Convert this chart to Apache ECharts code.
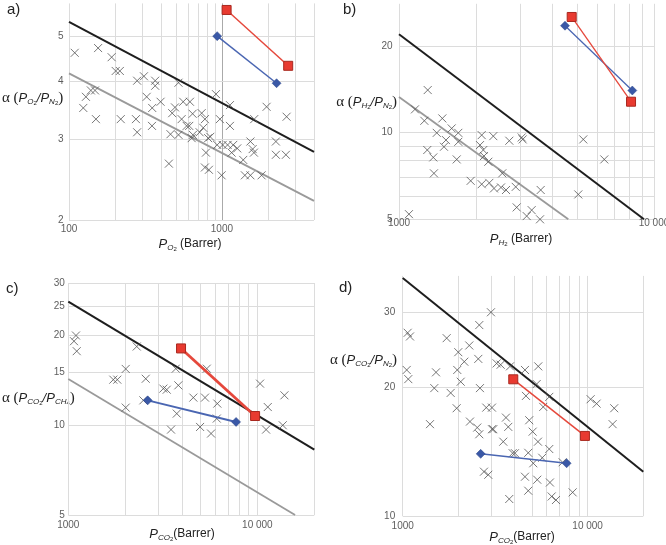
<!DOCTYPE html>
<html><head><meta charset="utf-8">
<script src="https://cdn.jsdelivr.net/npm/echarts@6/dist/echarts.min.js"></script>
<style>html,body{margin:0;padding:0;background:#fff}#c{width:666px;height:545px}</style>
</head><body><div id="c"></div>
<script>
const FONT = 'Liberation Sans';

// ---------- Panel a : O2/N2 ----------
const aXRange = [100, 4000];
const aYRange = [2, 5.9];
const aXGrid = [100, 200, 300, 400, 500, 600, 700, 800, 900, 1000, 2000, 3000, 4000];
const aYGrid = [2, 3, 4, 5];
const aXTicks = [100, 1000];
const aYTicks = [2, 3, 4, 5];
const aUpper = [[100, 5.38], [4000, 2.81]];
const aLower = [[100, 4.16], [4000, 2.20]];
const aRed = [[1073, 5.71], [2712, 4.32]];
const aBlue = [[931, 5.01], [2277, 3.96]];
const aCross = [[109,4.61],[155,4.72],[190,4.51],[202,4.21],[215,4.21],[279,4.01],[309,4.10],[366,4.01],[366,3.91],
 [139,3.82],[148,3.82],[129,3.70],[124,3.50],[322,3.70],[350,3.50],[397,3.61],[150,3.31],[218,3.31],[274,3.31],
 [349,3.20],[279,3.10],[520,3.97],[914,3.75],[493,3.51],[558,3.61],[618,3.61],[473,3.41],[643,3.40],[737,3.41],
 [1128,3.55],[1959,3.52],[2648,3.35],[545,3.31],[774,3.31],[970,3.31],[1626,3.31],[588,3.20],[611,3.20],[755,3.17],
 [1128,3.20],[461,3.07],[520,3.06],[646,3.06],[715,3.10],[839,3.03],[634,3.01],[813,3.01],[1536,2.96],[2254,2.96],
 [931,2.91],[1011,2.91],[1089,2.91],[1185,2.91],[1259,2.86],[1588,2.85],[1619,2.80],[786,2.80],[1157,2.80],
 [2254,2.77],[2620,2.77],[450,2.65],[1378,2.70],[774,2.60],[822,2.57],[995,2.50],[1413,2.50],[1536,2.50],[1817,2.50]];

// ---------- Panel b : H2/N2 ----------
const bXRange = [1000, 10000];
const bYRange = [5, 28];
const bXGrid = [1000, 2000, 3000, 4000, 5000, 6000, 7000, 8000, 9000, 10000];
const bYGrid = [5, 6, 7, 8, 9, 10, 20];
const bXTicks = [1000, 10000];
const bYTicks = [5, 10, 20];
const bUpper = [[1000, 21.96], [9140, 5]];
const bLower = [[1000, 13.3], [4613, 5]];
const bRed = [[4756, 25.2], [8128, 12.8]];
const bBlue = [[4477, 23.5], [8222, 14.0]];
const bCross = [[1296,14.05],[1155,12.04],[1257,10.99],[1479,11.20],[1406,9.98],[1609,10.34],[1708,9.98],[2110,9.80],
 [2343,9.72],[2708,9.37],[1291,8.70],[1363,8.20],[1371,7.22],[1501,8.93],[1528,9.42],[1708,9.29],[1684,8.07],
 [2078,9.05],[2141,8.70],[2154,8.29],[2240,7.92],[3029,9.62],[3055,9.47],[5280,9.47],[6383,8.07],[1910,6.80],
 [2110,6.62],[2260,6.69],[2358,6.40],[2512,6.45],[2628,6.32],[2541,7.22],[2869,6.48],[3594,6.32],[5048,6.10],
 [2894,5.50],[3313,5.38],[3168,5.13],[3573,5.0],[1094,5.21]];

// ---------- Panel c : CO2/CH4 ----------
const cXRange = [1000, 20000];
const cYRange = [5, 30];
const cXGrid = [1000, 2000, 3000, 4000, 5000, 6000, 7000, 8000, 9000, 10000, 20000];
const cYGrid = [5, 10, 15, 20, 25, 30];
const cXTicks = [1000, 10000];
const cYTicks = [5, 10, 15, 20, 25, 30];
const cUpper = [[1000, 26.0], [20000, 8.29]];
const cLower = [[1000, 14.3], [15830, 5]];
const cRed = [[3947, 18.1], [9724, 10.74]];
const cBlue = [[2630, 12.12], [7715, 10.26]];
const cCross = [[1098,20.0],[1072,19.14],[1108,17.72],[2301,18.37],[2012,15.45],[1730,14.22],[1816,14.22],[2568,14.32],
 [3182,13.27],[3316,13.16],[2494,12.12],[2012,11.46],[3702,15.48],[5399,15.48],[3819,13.61],[4584,12.38],[5286,12.38],
 [6140,11.82],[10330,13.79],[13900,12.60],[11350,11.51],[3746,10.94],[3494,9.67],[4977,9.87],[5689,9.38],[6099,10.53],
 [11120,9.67],[13620,10.0]];

// ---------- Panel d : CO2/N2 ----------
const dXRange = [1000, 20000];
const dYRange = [10, 36.5];
const dXGrid = [1000, 2000, 3000, 4000, 5000, 6000, 7000, 8000, 9000, 10000, 20000];
const dYGrid = [10, 20, 30];
const dXTicks = [1000, 10000];
const dYTicks = [10, 20, 30];
const dUpper = [[1000, 36.1], [20000, 12.7]];
const dRed = [[3962, 20.9], [9670, 15.4]];
const dBlue = [[2640, 13.98], [7700, 13.29]];
const dCross = [[3001,30.0],[2595,28.0],[1064,26.86],[1095,26.33],[1729,26.09],[2291,25.08],[1998,24.19],[2153,22.98],
 [2563,23.33],[3222,22.77],[3386,22.61],[1051,21.98],[1072,20.92],[1514,21.70],[1973,21.98],[2059,20.63],[1482,19.93],
 [2617,19.93],[1817,19.42],[1958,17.88],[2831,17.94],[3039,17.94],[3803,22.41],[4583,21.98],[5408,22.41],[5302,20.37],
 [4640,19.11],[6201,19.01],[5754,18.01],[10380,18.77],[11184,18.33],[13924,17.88],[13650,16.41],[1405,16.41],[2311,16.64],
 [2530,16.11],[2595,15.54],[3039,15.97],[3089,15.97],[3617,17.00],[3722,16.17],[4834,16.76],[5044,15.76],[3498,14.93],
 [5388,14.93],[3932,14.03],[4046,14.03],[4775,14.06],[5082,13.29],[5683,13.69],[6201,14.35],[7326,13.36],[2751,12.70],
 [2902,12.49],[4583,12.36],[5341,12.16],[6254,11.98],[4775,11.46],[8298,11.36],[6390,11.11],[6742,10.90],[3768,10.96]];

const panels = [
  {x:aXRange,y:aYRange,xg:aXGrid,yg:aYGrid,xt:aXTicks,yt:aYTicks,cross:aCross,up:aUpper,low:aLower,red:aRed,blue:aBlue,
   rect:{left:69,top:3.4,width:245,height:216.6}, xd:4, yd:5, redW:1.5, blueW:1.5, strong:[1000]},
  {x:bXRange,y:bYRange,xg:bXGrid,yg:bYGrid,xt:bXTicks,yt:bYTicks,cross:bCross,up:bUpper,low:bLower,red:bRed,blue:bBlue,
   rect:{left:399,top:3.8,width:255,height:215.5}, xd:-2, yd:6, redW:1.3, blueW:1.3, strong:[]},
  {x:cXRange,y:cYRange,xg:cXGrid,yg:cYGrid,xt:cXTicks,yt:cYTicks,cross:cCross,up:cUpper,low:cLower,red:cRed,blue:cBlue,
   rect:{left:68.3,top:283,width:246,height:232}, xd:5, yd:3, redW:2.8, blueW:2, strong:[]},
  {x:dXRange,y:dYRange,xg:dXGrid,yg:dYGrid,xt:dXTicks,yt:dYTicks,cross:dCross,up:dUpper,low:null,red:dRed,blue:dBlue,
   rect:{left:402.7,top:275.9,width:240.6,height:240.1}, xd:5, yd:7, redW:1.5, blueW:1.5, strong:[]}
];

function fmt(v){ return v >= 10000 ? Math.floor(v/1000) + ' 000' : String(v); }

const grid = [], xAxis = [], yAxis = [], series = [];
panels.forEach((p, i) => {
  grid.push(Object.assign({containLabel:false, outerBoundsMode:'none'}, p.rect));
  const ax = {type:'log', logBase:10, gridIndex:i, axisLine:{show:false}, axisTick:{show:false},
              axisLabel:{show:false}, splitLine:{show:false}, minorTick:{show:false}, minorSplitLine:{show:false}};
  xAxis.push(Object.assign({}, ax, {min:p.x[0], max:p.x[1]}));
  yAxis.push(Object.assign({}, ax, {min:p.y[0], max:p.y[1]}));
  const lbl = {show:true, fontSize:10, color:'#333', fontFamily:FONT};
  const gridLines = p.xg.map(v => ({xAxis:v, lineStyle:{color: p.strong.indexOf(v) >= 0 ? '#aaaaaa' : '#dcdcdc'}}))
      .concat(p.yg.map(v => ({yAxis:v})));
  series.push({type:'scatter', xAxisIndex:i, yAxisIndex:i, z:1, clip:false, silent:true, symbolSize:1,
    itemStyle:{color:'rgba(0,0,0,0)'},
    data:p.xt.map(v => [v, p.y[0]]),
    label:Object.assign({position:'bottom', distance:p.xd, formatter:d => fmt(d.value[0])}, lbl),
    markLine:{silent:true, animation:false, z:1, symbol:['none','none'], label:{show:false},
      lineStyle:{color:'#dcdcdc', width:1, type:'solid'}, data:gridLines}});
  series.push({type:'scatter', xAxisIndex:i, yAxisIndex:i, z:1, clip:false, silent:true, symbolSize:1,
    itemStyle:{color:'rgba(0,0,0,0)'},
    data:p.yt.map(v => [p.x[0], v]),
    label:Object.assign({position:'left', distance:p.yd, formatter:d => fmt(d.value[1])}, lbl)});
  if (p.low) series.push({type:'line', xAxisIndex:i, yAxisIndex:i, z:3, silent:true, symbol:'none', data:p.low,
    lineStyle:{color:'#9a9a9a', width:1.8}});
  series.push({type:'line', xAxisIndex:i, yAxisIndex:i, z:3, silent:true, symbol:'none', data:p.up,
    lineStyle:{color:'#1e1e1e', width:2}});
  series.push({type:'scatter', xAxisIndex:i, yAxisIndex:i, z:4, clip:false, silent:true,
    symbol:'path://M0,0L10,10M10,0L0,10', symbolSize:8,
    itemStyle:{color:'rgba(0,0,0,0)', borderColor:'#555', borderWidth:1}, data:p.cross});
  series.push({type:'line', xAxisIndex:i, yAxisIndex:i, z:5, silent:true, symbol:'diamond', symbolSize:9,
    showSymbol:true, data:p.blue, itemStyle:{color:'#3a58a6', borderColor:'#2c4688', borderWidth:0.5},
    lineStyle:{color:'#4a66b2', width:p.blueW}});
  series.push({type:'line', xAxisIndex:i, yAxisIndex:i, z:6, silent:true, symbol:'rect', symbolSize:9,
    showSymbol:true, data:p.red, itemStyle:{color:'#e83a30', borderColor:'#a8281f', borderWidth:1},
    lineStyle:{color:'#e5483c', width:p.redW}});
});

const rich = {
  g:{fontFamily:'Liberation Serif', fontSize:15, color:'#222', verticalAlign:'middle', lineHeight:16},
  p:{fontFamily:FONT, fontStyle:'italic', fontSize:13, color:'#222', verticalAlign:'middle', lineHeight:16},
  n:{fontFamily:FONT, fontSize:12, color:'#222', verticalAlign:'middle', lineHeight:16},
  s:{fontFamily:FONT, fontStyle:'italic', fontSize:8, color:'#222', verticalAlign:'bottom', lineHeight:8},
  t:{fontFamily:FONT, fontSize:6, color:'#222', verticalAlign:'bottom', lineHeight:6}
};
function txt(x, y, text, align){
  return {type:'text', x:x, y:y, silent:true,
    style:{text:text, rich:rich, align:align, verticalAlign:'middle', fill:'#222', font:'12px ' + FONT}};
}
function panelLabel(x, y, t){
  return {type:'text', x:x, y:y, silent:true,
    style:{text:t, align:'left', verticalAlign:'middle', fill:'#222', font:'15px ' + FONT}};
}
const graphic = [
  panelLabel(7, 10, 'a)'), panelLabel(343, 10, 'b)'), panelLabel(6, 289, 'c)'), panelLabel(339, 288, 'd)'),
  txt(2, 98, '{g|α (}{p|P}{s|O}{t|2}{p|/P}{s|N}{t|2}{g|)}', 'left'),
  txt(397, 102, '{g|α (}{p|P}{s|H}{t|2}{p|/P}{s|N}{t|2}{g|)}', 'right'),
  txt(2, 398, '{g|α (}{p|P}{s|CO}{t|2}{p|/P}{s|CH}{t|4}{g|)}', 'left'),
  txt(397, 360, '{g|α (}{p|P}{s|CO}{t|2}{p|/P}{s|N}{t|2}{g|)}', 'right'),
  txt(190, 244, '{p|P}{s|O}{t|2}{n| (Barrer)}', 'center'),
  txt(521, 239, '{p|P}{s|H}{t|2}{n| (Barrer)}', 'center'),
  txt(182, 534, '{p|P}{s|CO}{t|2}{n|(Barrer)}', 'center'),
  txt(522, 537, '{p|P}{s|CO}{t|2}{n|(Barrer)}', 'center')
];

const chart = echarts.init(document.getElementById('c'), null, {renderer:'canvas'});
chart.setOption({animation:false, backgroundColor:'#fff', grid, xAxis, yAxis, series, graphic});
</script></body></html>
